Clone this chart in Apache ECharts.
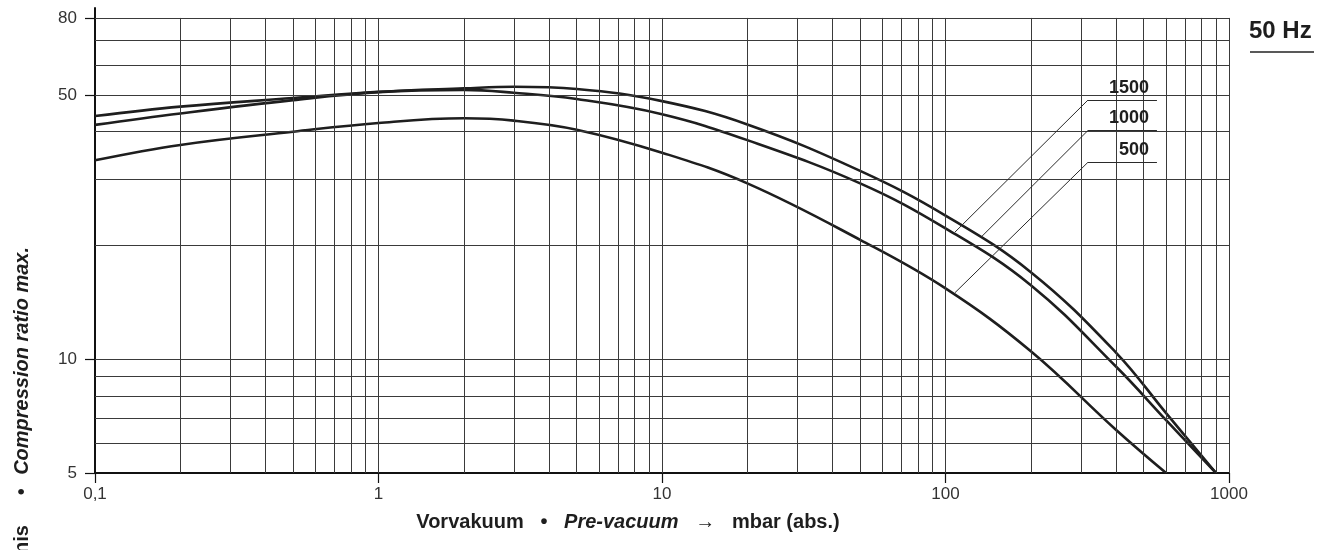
<!DOCTYPE html>
<html>
<head>
<meta charset="utf-8">
<script src="https://cdn.jsdelivr.net/npm/echarts@6/dist/echarts.min.js"></script>
<style>
  html, body { margin: 0; padding: 0; background: #fff; }
  #chart { width: 1331px; height: 550px; }
</style>
</head>
<body>
<div id="chart"></div>
<script>
// ---- data (pressure in mbar, compression ratio) ----
const pressure1500 = [0.1, 0.2, 0.5, 1, 2, 3, 5, 10, 20, 50, 100, 200, 400, 600, 900];
const ratio1500    = [44.0, 46.6, 49.1, 51.0, 52.1, 52.6, 51.9, 48.2, 41.8, 31.5, 24.0, 17.0, 10.4, 7.2, 5.0];
const pressure1000 = [0.1, 0.2, 0.5, 1, 2, 3, 5, 10, 20, 50, 100, 200, 400, 600, 900];
const ratio1000    = [41.7, 44.7, 48.5, 50.9, 51.6, 50.7, 48.8, 44.5, 38.0, 29.2, 22.2, 15.7, 9.55, 6.9, 5.0];
const pressure500  = [0.1, 0.2, 0.5, 1, 2, 3, 5, 10, 20, 50, 100, 200, 400, 600];
const ratio500     = [33.6, 36.9, 40.0, 42.2, 43.4, 42.8, 40.5, 35.2, 29.2, 20.7, 15.4, 10.5, 6.5, 5.0];

const speedLabels = ['1500', '1000', '500'];
// leader lines: [point on curve], [corner], [end of underline]
const leaderStart = [[108, 21.7], [134, 21.1], [108, 15.0]];
const leaderCorner = [[318, 48.5], [318, 40.3], [318, 33.2]];
const leaderEnd = [[557, 48.5], [557, 40.3], [557, 33.2]];

const xTicks = [0.1, 1, 10, 100, 1000];
const yTicks = [5, 10, 50, 80];
const xGrid = [];
[0.1, 1, 10, 100].forEach(d => { for (let k = 2; k <= 10; k++) xGrid.push(+(d * k).toPrecision(6)); });
const yGrid = [6, 7, 8, 9, 10, 20, 30, 40, 50, 60, 70, 80];

const FONT = '"Liberation Sans", Arial, Helvetica, sans-serif';
const INK = '#1e1e1e';

const chart = echarts.init(document.getElementById('chart'), null, { renderer: 'canvas' });

function zip(xs, ys) { return xs.map((x, i) => [x, ys[i]]); }

function leader(i) {
  const lbl = {
    show: true, formatter: speedLabels[i], position: 'insideEndTop',
    fontFamily: FONT, fontWeight: 'bold', fontSize: 18, color: INK, distance: [8, 3]
  };
  return {
    silent: true, symbol: ['none', 'none'], animation: false,
    lineStyle: { type: 'solid', color: '#2a2a2a', width: 1 },
    label: { show: false },
    data: [
      [{ coord: leaderStart[i] }, { coord: leaderCorner[i] }],
      [{ coord: leaderCorner[i], label: lbl }, { coord: leaderEnd[i], label: lbl }]
    ]
  };
}

const curveStyle = { color: INK, width: 2.6 };
const boldX = { fontFamily: FONT, fontWeight: 'bold', fontSize: 20, fill: INK };
const boldItalicX = { fontFamily: FONT, fontWeight: 'bold', fontStyle: 'italic', fontSize: 20, fill: INK };

const option = {
  animation: false,
  backgroundColor: '#fff',
  grid: { left: 95, right: 102, top: 8, bottom: 77, containLabel: false },
  xAxis: {
    type: 'log', logBase: 10, min: 0.1, max: 1000,
    axisLine: { show: true, lineStyle: { color: '#111', width: 2 } },
    axisTick: { show: true, customValues: xTicks, length: 10, lineStyle: { color: '#111', width: 1.2 } },
    axisLabel: {
      customValues: xTicks, fontFamily: FONT, fontSize: 17, color: '#333', margin: 13,
      formatter: v => String(+(+v).toPrecision(6)).replace('.', ',')
    },
    splitLine: { show: false }, minorTick: { show: false }
  },
  yAxis: {
    type: 'log', logBase: 10, min: 5, max: 85,
    axisLine: { show: true, onZero: false, lineStyle: { color: '#111', width: 2 } },
    axisTick: { show: true, customValues: yTicks, length: 10, lineStyle: { color: '#111', width: 1.2 } },
    axisLabel: { customValues: yTicks, fontFamily: FONT, fontSize: 17, color: '#333', margin: 18 },
    splitLine: { show: false }
  },
  graphic: [
    {
      type: 'text', x: 1249, y: 19, silent: true,
      style: { text: '50 Hz', fontFamily: FONT, fontWeight: 'bold', fontSize: 24, fill: INK }
    },
    {
      type: 'line', silent: true,
      shape: { x1: 1250, y1: 52, x2: 1314, y2: 52 },
      style: { stroke: '#222', lineWidth: 1.5 }
    },
    {
      type: 'text', x: 628, y: 522, silent: true,
      style: {
        text: '{b|Vorvakuum}     {b|•}     {i|Pre-vacuum}     {b|→}     {b|mbar (abs.)}',
        align: 'center', verticalAlign: 'middle',
        rich: { b: boldX, i: boldItalicX }
      }
    },
    {
      type: 'text', x: 22, y: 247, rotation: Math.PI / 2, silent: true,
      style: {
        text: '{b|Kompressionsverhältnis}         {b|•}    {i|Compression ratio max.}',
        align: 'right', verticalAlign: 'middle',
        rich: { b: boldX, i: boldItalicX }
      }
    }
  ],
  series: [
    {
      name: 'grid', type: 'line', data: [], z: 1, silent: true,
      markLine: {
        silent: true, symbol: ['none', 'none'], animation: false,
        label: { show: false },
        lineStyle: { type: 'solid', color: '#3a3a3a', width: 1 },
        data: xGrid.map(v => [{ coord: [v, 5] }, { coord: [v, 80] }])
          .concat(yGrid.map(v => [{ coord: [0.1, v] }, { coord: [1000, v] }]))
      }
    },
    {
      name: '1500', type: 'line', data: zip(pressure1500, ratio1500), smooth: 0.4,
      symbol: 'none', z: 3, lineStyle: curveStyle, markLine: leader(0)
    },
    {
      name: '1000', type: 'line', data: zip(pressure1000, ratio1000), smooth: 0.4,
      symbol: 'none', z: 3, lineStyle: curveStyle, markLine: leader(1)
    },
    {
      name: '500', type: 'line', data: zip(pressure500, ratio500), smooth: 0.4,
      symbol: 'none', z: 3, lineStyle: curveStyle, markLine: leader(2)
    }
  ]
};
chart.setOption(option);
</script>
</body>
</html>
